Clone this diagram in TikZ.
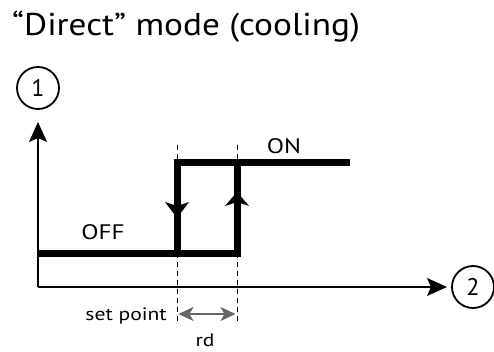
\documentclass[tikz,border=0pt]{standalone}
\usepackage{fontspec}
\setmainfont{PT Sans}
\newfontfamily\titlefont{PT Sans}[FakeStretch=1.12]
\newfontfamily\lblfont{PT Sans}[FakeStretch=1.2]
\usetikzlibrary{arrows.meta}
\begin{document}
\begin{tikzpicture}[x=1pt,y=-1pt,
  axis/.style={line width=1.2pt,-{Stealth[length=20pt,width=18pt,inset=4pt]}},
  curve/.style={line width=7pt,line join=miter,line cap=butt},
  guide/.style={line width=1pt,dash pattern=on 5pt off 4pt},
  numcirc/.style={circle,draw,line width=1.8pt,minimum size=42pt,inner sep=0pt,font=\fontsize{24}{26}\selectfont},
  lbl/.style={inner sep=0pt,font=\lblfont\fontsize{21}{23}\selectfont},
  small/.style={inner sep=0pt,font=\lblfont\fontsize{18}{20}\selectfont},
  tipfill/.style={fill=black}]
\useasboundingbox (0,0) rectangle (494,352);
\node[anchor=base west,inner sep=0pt,font=\titlefont\fontsize{31.5}{34}\selectfont] (title) at (12,36) {“Direct” mode (cooling)};
\node[numcirc] (c1) at (38,88) {1};
\node[numcirc] (c2) at (473,287) {2};
\coordinate (o) at (38,287);
\coordinate (ytop) at (38,122);
\coordinate (xend) at (447,287);
\draw[axis] (o) -- (ytop);
\draw[axis] (o) -- (xend);
% guides
\coordinate (g1t) at (177,145);
\coordinate (g1b) at (177,323);
\coordinate (g2t) at (237,145);
\coordinate (g2b) at (237,323);
\draw[guide] (g1t) -- (g1b);
\draw[guide] (g2t) -- (g2b);
% hysteresis
\coordinate (a) at (38,253);
\coordinate (b) at (240.5,253);
\coordinate (c) at (237,163);
\coordinate (f) at (350,163);
\draw[curve] (a) -- (b);
\draw[curve] (237,256.5) -- (c);
\draw[curve] (177,256.5) -- (177,163) -- (f);
% arrow heads on verticals
\fill[tipfill] (165,202) -- (177,218) -- (189,202) -- (177,206) -- cycle;
\fill[tipfill] (225,206) -- (237,192) -- (249,206) -- (237,202) -- cycle;
% labels
\node[lbl,anchor=base] (on) at (284,154) {ON};
\node[lbl,anchor=base] (off) at (103,240) {OFF};
\node[small,anchor=base east] (sp) at (167,320) {set point};
\node[small,anchor=base] (rd) at (205,346) {rd};
\draw[line width=1.6pt,color=black!60,{Stealth[length=15pt,width=14pt,inset=4pt]}-{Stealth[length=15pt,width=14pt,inset=4pt]}] (178.5,314) -- (235.5,314);
\end{tikzpicture}
\end{document}
